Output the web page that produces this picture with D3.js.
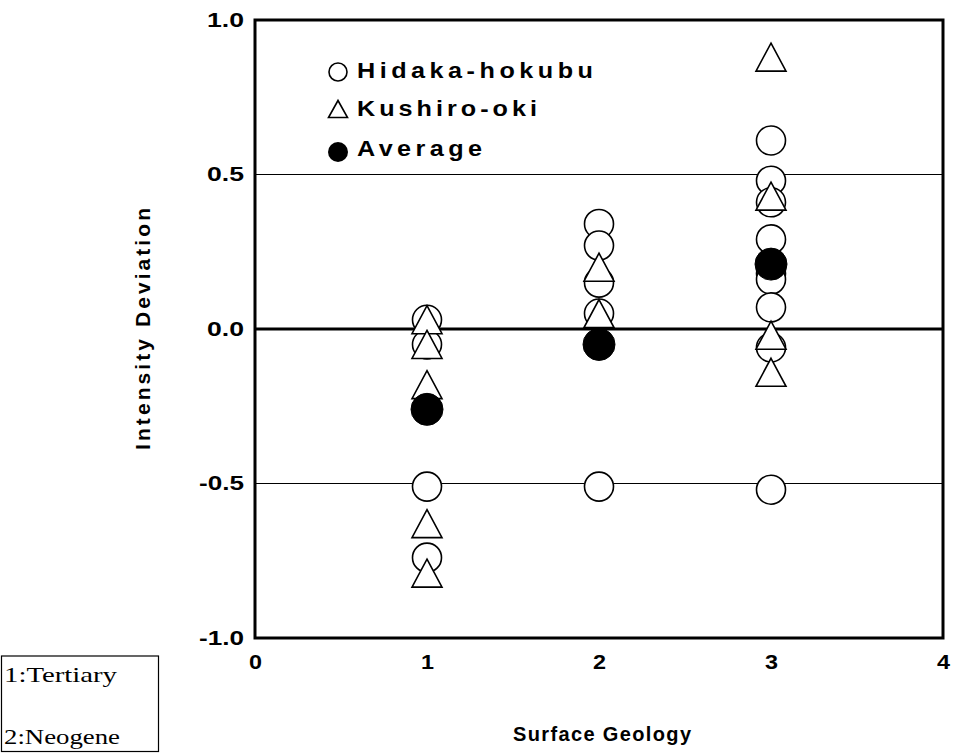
<!DOCTYPE html>
<html>
<head>
<meta charset="utf-8">
<script src="https://cdn.jsdelivr.net/npm/d3@7"></script>
<style>
  html, body { margin: 0; padding: 0; background: #fff; }
  svg { display: block; }
  .lbl { font-family: "Liberation Sans", Arial, sans-serif; font-weight: bold; fill: #000; }
  .note { font-family: "Liberation Serif", "Times New Roman", serif; fill: #000; }
</style>
</head>
<body>
<svg id="chart" width="954" height="753"></svg>
<script>
// Surface geology class (x) vs. intensity deviation (y)
const hidakaX = [1, 1, 1, 1,
                 2, 2, 2, 2, 2,
                 3, 3, 3, 3, 3, 3, 3, 3, 3];
const hidakaY = [0.03, -0.05, -0.51, -0.74,
                 0.34, 0.27, 0.15, 0.05, -0.51,
                 0.61, 0.48, 0.41, 0.29, 0.18, 0.16, 0.07, -0.06, -0.52];

const kushiroX = [1, 1, 1, 1, 1,
                  2, 2,
                  3, 3, 3, 3];
const kushiroY = [0.03, -0.05, -0.18, -0.63, -0.79,
                  0.20, 0.05,
                  0.88, 0.43, -0.02, -0.14];

const averageX = [1, 2, 3];
const averageY = [-0.26, -0.05, 0.21];

const xTicks = [0, 1, 2, 3, 4];
const yTicks = [-1.0, -0.5, 0.0, 0.5, 1.0];
const gridValues = [-0.5, 0.5];

const seriesNames = ["Hidaka-hokubu", "Kushiro-oki", "Average"];
const notes = ["1:Tertiary", "2:Neogene"];

const svg = d3.select("#chart");

const x = d3.scaleLinear().domain([0, 4]).range([255, 943]);
const y = d3.scaleLinear().domain([-1, 1]).range([638, 20]);

// wide, letter-spaced bold label: glyphs stretched by sx, gaps fill the target width
function spacedText(parent, str, tx, ty, size, width, anchor, rotate, sx) {
  const g = parent.append("g")
    .attr("transform", `translate(${tx},${ty})${rotate ? " rotate(-90)" : ""} scale(${sx},1)`);
  return g.append("text").attr("class", "lbl")
    .attr("font-size", size)
    .attr("text-anchor", anchor)
    .attr("textLength", width / sx).attr("lengthAdjust", "spacing")
    .text(str);
}

// horizontal reference lines
svg.append("g").selectAll("line").data(gridValues).join("line")
  .attr("x1", x(0)).attr("x2", x(4))
  .attr("y1", d => y(d)).attr("y2", d => y(d))
  .attr("stroke", "#000").attr("stroke-width", 1.2);

svg.append("line")
  .attr("x1", x(0)).attr("x2", x(4))
  .attr("y1", y(0)).attr("y2", y(0))
  .attr("stroke", "#000").attr("stroke-width", 3);

// plot frame
svg.append("rect")
  .attr("x", x(0)).attr("y", y(1))
  .attr("width", x(4) - x(0)).attr("height", y(-1) - y(1))
  .attr("fill", "none").attr("stroke", "#000").attr("stroke-width", 3);

// axes (labels only, frame carries the lines)
const fmtY = d => d3.format(".1f")(d).replace("\u2212", "-");
const yAxis = d3.axisLeft(y).tickValues(yTicks).tickSize(0).tickPadding(11)
  .tickFormat(fmtY);
const gy = svg.append("g").attr("transform", `translate(${x(0)},0)`).call(yAxis);
gy.select(".domain").remove();
gy.selectAll("text").attr("class", "lbl").attr("font-size", 20)
  .attr("font-family", null)
  .attr("textLength", d => fmtY(d).length === 3 ? 37 : 45)
  .attr("lengthAdjust", "spacingAndGlyphs");

const xAxis = d3.axisBottom(x).tickValues(xTicks).tickSize(0).tickPadding(17)
  .tickFormat(d3.format("d"));
const gx = svg.append("g").attr("transform", `translate(0,${y(-1)})`).call(xAxis);
gx.select(".domain").remove();
gx.selectAll("text").attr("class", "lbl").attr("font-size", 20).attr("font-family", null)
  .attr("textLength", 13).attr("lengthAdjust", "spacingAndGlyphs");

// axis titles
spacedText(svg, "Surface Geology", 602, 741, 20, 178, "middle", false, 1.0);
spacedText(svg, "Intensity Deviation", 150, y(0), 20, 242, "middle", true, 1.05);

// marker helpers
const circR = 14.5;
const triW = 30, triH = 28;
function triPath(cx, cy, w, h) {
  const p = d3.path();
  p.moveTo(cx, cy - h / 2);
  p.lineTo(cx + w / 2, cy + h / 2);
  p.lineTo(cx - w / 2, cy + h / 2);
  p.closePath();
  return p.toString();
}

// Hidaka-hokubu: open circles
svg.append("g").selectAll("circle").data(d3.range(hidakaX.length)).join("circle")
  .attr("cx", i => x(hidakaX[i])).attr("cy", i => y(hidakaY[i]))
  .attr("r", circR)
  .attr("fill", "#fff").attr("stroke", "#000").attr("stroke-width", 1.6);

// Kushiro-oki: open triangles
svg.append("g").selectAll("path").data(d3.range(kushiroX.length)).join("path")
  .attr("d", i => triPath(x(kushiroX[i]), y(kushiroY[i]), triW, triH))
  .attr("fill", "#fff").attr("stroke", "#000").attr("stroke-width", 1.6)
  .attr("stroke-linejoin", "miter");

// Average: filled circles
svg.append("g").selectAll("circle").data(d3.range(averageX.length)).join("circle")
  .attr("cx", i => x(averageX[i])).attr("cy", i => y(averageY[i]))
  .attr("r", 16)
  .attr("fill", "#000").attr("stroke", "#000").attr("stroke-width", 1);

// legend
const lg = svg.append("g");
const legY = [70, 108, 148];
const legW = [236, 180, 125];
lg.append("circle").attr("cx", 338).attr("cy", legY[0] + 2).attr("r", 9)
  .attr("fill", "#fff").attr("stroke", "#000").attr("stroke-width", 1.6);
lg.append("path").attr("d", triPath(338, legY[1] + 1, 19, 17))
  .attr("fill", "#fff").attr("stroke", "#000").attr("stroke-width", 1.6);
lg.append("circle").attr("cx", 338).attr("cy", legY[2] + 4).attr("r", 10)
  .attr("fill", "#000");
seriesNames.forEach((name, i) => {
  spacedText(lg, name, 357, legY[i] + 8, 22.5, legW[i], "start", false, 1.12);
});

// class note box
const nb = svg.append("g");
nb.append("rect").attr("x", 1.5).attr("y", 656).attr("width", 157).attr("height", 95.5)
  .attr("fill", "#fff").attr("stroke", "#000").attr("stroke-width", 1.2);
nb.selectAll("text").data(notes).join("text").attr("class", "note")
  .attr("x", 4).attr("y", (d, i) => 682 + i * 62)
  .attr("font-size", 22)
  .attr("textLength", (d, i) => [113, 116][i]).attr("lengthAdjust", "spacingAndGlyphs")
  .text(d => d);
</script>
</body>
</html>
